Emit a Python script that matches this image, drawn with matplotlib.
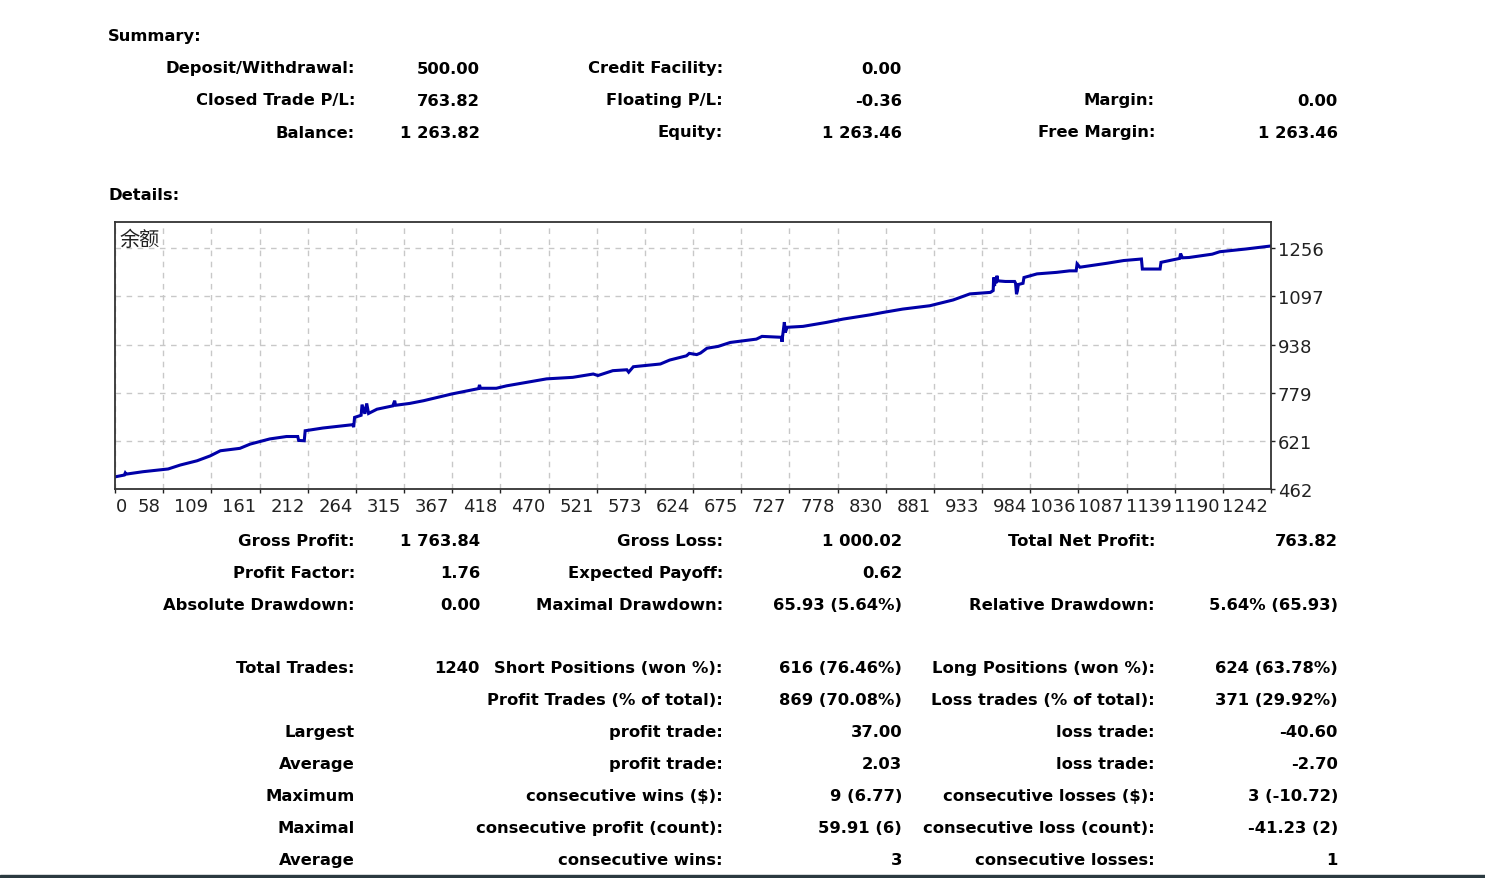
import matplotlib.pyplot as plt
from matplotlib.patches import Rectangle
import matplotlib.transforms as mtransforms
import numpy as np

plt.rcParams['font.family'] = ['DejaVu Sans', 'Noto Sans CJK SC']

# balance curve (trade number, balance)
trade_no = [0, 10, 11, 12, 30, 57, 70, 88, 102, 113, 134, 145, 166, 184, 196,
            197, 203, 204, 223, 255, 256, 257, 264, 265, 268, 270, 272, 281,
            298, 300, 301, 316, 331, 361, 390, 391, 392, 409, 420, 463, 491,
            513, 518, 534, 549, 551, 556, 585, 595, 613, 616, 624, 628, 635,
            647, 660, 688, 694, 715, 715.5, 716, 718, 719, 721, 738, 763, 781,
            810, 824, 845, 874, 899, 917, 939, 942, 942.5, 943.5, 944, 945,
            946, 947, 955, 965, 966, 967, 968, 969, 974, 975, 989, 1010, 1024,
            1031, 1032, 1035, 1064, 1082, 1101, 1102, 1121, 1122, 1142, 1143,
            1145, 1152, 1177, 1185, 1213, 1240]
balance = [502, 508, 515, 511, 519, 528, 541, 555, 571, 588, 596, 610, 627,
           635, 635, 622, 621, 654, 663, 674, 666, 698, 705, 740, 710, 744,
           711, 725, 736, 753, 738, 744, 753, 775, 793, 805, 794, 794, 802,
           825, 830, 841, 836, 852, 855, 847, 865, 874, 887, 901, 909, 905,
           910, 926, 932, 945, 956, 965, 962, 947, 963, 1012, 978, 995, 998,
           1011, 1022, 1036, 1044, 1055, 1066, 1085, 1105, 1110, 1116, 1159,
           1131, 1160, 1140, 1165, 1148, 1146, 1146, 1140, 1104, 1115, 1136,
           1140, 1159, 1171, 1176, 1181, 1181, 1204, 1193, 1206, 1215, 1220,
           1187, 1187, 1209, 1222, 1238, 1224, 1225, 1236, 1244, 1253, 1263]

x_labels = ["0", "58", "109", "161", "212", "264", "315", "367", "418", "470",
            "521", "573", "624", "675", "727", "778", "830", "881", "933",
            "984", "1036", "1087", "1139", "1190", "1242"]
y_ticks = [462, 621, 779, 938, 1097, 1256]

summary_rows = [
    ("Deposit/Withdrawal:", "500.00", "Credit Facility:", "0.00", "", ""),
    ("Closed Trade P/L:", "763.82", "Floating P/L:", "-0.36", "Margin:", "0.00"),
    ("Balance:", "1 263.82", "Equity:", "1 263.46", "Free Margin:", "1 263.46"),
]
summary_y = [69, 101, 133]

details_rows = [
    ("Gross Profit:", "1 763.84", "Gross Loss:", "1 000.02", "Total Net Profit:", "763.82"),
    ("Profit Factor:", "1.76", "Expected Payoff:", "0.62", "", ""),
    ("Absolute Drawdown:", "0.00", "Maximal Drawdown:", "65.93 (5.64%)", "Relative Drawdown:", "5.64% (65.93)"),
    ("Total Trades:", "1240", "Short Positions (won %):", "616 (76.46%)", "Long Positions (won %):", "624 (63.78%)"),
    ("", "", "Profit Trades (% of total):", "869 (70.08%)", "Loss trades (% of total):", "371 (29.92%)"),
    ("Largest", "", "profit trade:", "37.00", "loss trade:", "-40.60"),
    ("Average", "", "profit trade:", "2.03", "loss trade:", "-2.70"),
    ("Maximum", "", "consecutive wins ($):", "9 (6.77)", "consecutive losses ($):", "3 (-10.72)"),
    ("Maximal", "", "consecutive profit (count):", "59.91 (6)", "consecutive loss (count):", "-41.23 (2)"),
    ("Average", "", "consecutive wins:", "3", "consecutive losses:", "1"),
]
details_y = [542, 574, 606, 669, 701, 733, 765, 797, 829, 861]

W, H = 1485, 879
col_right = [355, 480, 723, 902, 1155, 1338]
FS = 11.8

fig = plt.figure(figsize=(W / 100, H / 100), dpi=100)


def put(x, y, s, ha='right'):
    fig.text(x / W, 1 - y / H, s, ha=ha, va='center', fontsize=FS,
             fontweight='bold', color='black')


put(108, 37, "Summary:", ha='left')
put(108, 196, "Details:", ha='left')

for row, y in zip(summary_rows + details_rows, summary_y + details_y):
    for s, xr in zip(row, col_right):
        if s:
            put(xr, y, s)

# chart
ax = fig.add_axes([115 / W, 1 - 490 / H, (1271 - 115) / W, (490 - 223) / H])
ax.plot(trade_no, balance, color='#0000a8', lw=2.2, solid_joinstyle='miter')
ax.set_xlim(0, 1240)
ax.set_ylim(462, 1342)

ax.set_xticks(np.linspace(0, 1240, len(x_labels)))
ax.set_xticklabels(x_labels)
ax.set_yticks(y_ticks)
ax.set_yticklabels([str(v) for v in y_ticks])
ax.yaxis.tick_right()
ax.tick_params(axis='both', labelsize=13, colors='#222222', length=3, width=1, pad=2)
ax.tick_params(axis='x', pad=3)

shift_l = mtransforms.ScaledTranslation(-3 / 100, 0, fig.dpi_scale_trans)
shift_r = mtransforms.ScaledTranslation(1 / 100, 0, fig.dpi_scale_trans)
for i, lab in enumerate(ax.get_xticklabels()):
    if i == 0:
        lab.set_ha('left')
        lab.set_transform(lab.get_transform() + shift_r)
    else:
        lab.set_ha('right')
        lab.set_transform(lab.get_transform() + shift_l)

ax.grid(True, color='#c8c8c8', ls=(0, (4, 4)), lw=1)
for sp in ax.spines.values():
    sp.set_color('#333333')
    sp.set_linewidth(1.3)

ax.text(0.004, 0.935, "余额", transform=ax.transAxes, ha='left', va='center',
        fontsize=14.5, color='#222222', family=['Noto Sans CJK SC', 'DejaVu Sans'])

# dark strip at the bottom edge
fig.patches.append(Rectangle((0, 0), 1, 3 / H, transform=fig.transFigure,
                             color='#2b3a40', zorder=0))

fig.savefig("out.png", dpi=100)
